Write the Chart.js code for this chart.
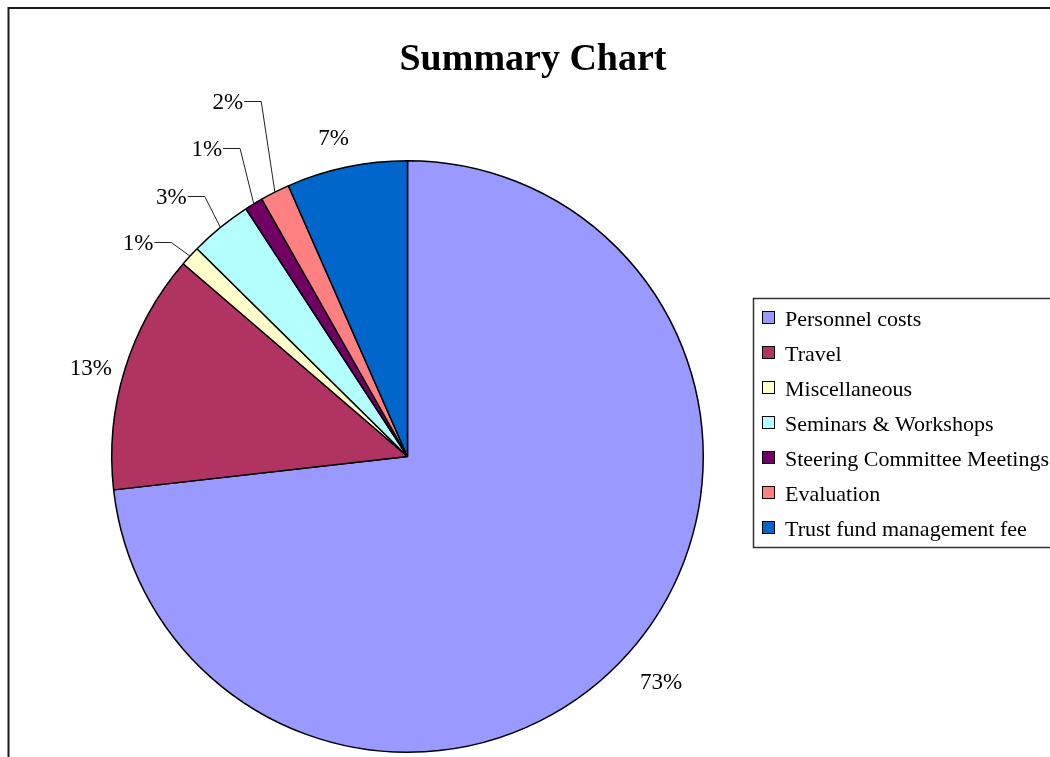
<!DOCTYPE html>
<html>
<head>
<meta charset="utf-8">
<script src="https://cdn.jsdelivr.net/npm/chart.js@4.4.1/dist/chart.umd.min.js"></script>
<style>
  html, body { margin: 0; padding: 0; background: #ffffff; }
  #wrap { width: 1050px; height: 757px; position: relative; }
  canvas { display: block; }
</style>
</head>
<body>
<div id="wrap"><canvas id="c" width="1050" height="757"></canvas></div>
<script>
// ---- data ----
const categories = [
  "Personnel costs",
  "Travel",
  "Miscellaneous",
  "Seminars & Workshops",
  "Steering Committee Meetings",
  "Evaluation",
  "Trust fund management fee"
];
const shares = [73.2, 13.1, 1.1, 3.4, 1.0, 1.6, 6.6];
const sliceColors = ["#9999FF", "#B13362", "#FFFFCC", "#B3FFFF", "#720064", "#FF8080", "#0066CC"];
const chartTitle = "Summary Chart";

// label placement relative to the slice's outer-edge midpoint
const labelPlacement = [
  { dx: 33, dy: 28 },
  { dx: -34, dy: -3 },
  { dx: -52, dy: -14, leader: true },
  { dx: -49, dy: -31, leader: true },
  { dx: -47, dy: -56, leader: true },
  { dx: -47, dy: -91, leader: true },
  { dx: -13, dy: -30 }
];

const SERIF = '"Liberation Serif", "Times New Roman", Times, serif';

const framePlugin = {
  id: 'frame',
  beforeDraw(chart) {
    const ctx = chart.ctx;
    ctx.save();
    ctx.fillStyle = '#ffffff';
    ctx.fillRect(0, 0, chart.width, chart.height);
    ctx.strokeStyle = '#1a1a1a';
    ctx.lineWidth = 2;
    ctx.beginPath();
    ctx.moveTo(8.5, chart.height + 2);
    ctx.lineTo(8.5, 8);
    ctx.lineTo(chart.width + 2, 8);
    ctx.stroke();
    // title
    ctx.fillStyle = '#000';
    ctx.font = 'bold 38px ' + SERIF;
    ctx.textAlign = 'center';
    ctx.textBaseline = 'alphabetic';
    ctx.fillText(chartTitle, 533, 70);
    ctx.restore();
  }
};

const labelPlugin = {
  id: 'pctLabels',
  afterDatasetsDraw(chart) {
    const ctx = chart.ctx;
    const meta = chart.getDatasetMeta(0);
    const vals = chart.data.datasets[0].data;
    const total = vals.reduce((a, b) => a + b, 0);
    ctx.save();
    ctx.font = '23px ' + SERIF;
    ctx.fillStyle = '#000';
    ctx.textBaseline = 'alphabetic';
    ctx.textAlign = 'center';
    meta.data.forEach((arc, i) => {
      const p = arc.getProps(['x', 'y', 'startAngle', 'endAngle', 'outerRadius'], true);
      const mid = (p.startAngle + p.endAngle) / 2;
      const ex = p.x + Math.cos(mid) * p.outerRadius;
      const ey = p.y + Math.sin(mid) * p.outerRadius;
      const pl = labelPlacement[i];
      const tx = ex + pl.dx;
      const ty = ey + pl.dy;
      const txt = Math.round(vals[i] / total * 100) + '%';
      ctx.fillText(txt, tx, ty + 8);
      if (pl.leader) {
        const w = ctx.measureText(txt).width;
        const right = tx + w / 2 + 1;
        ctx.strokeStyle = '#222';
        ctx.lineWidth = 1;
        ctx.beginPath();
        ctx.moveTo(right, Math.round(ty) + 0.5);
        ctx.lineTo(right + 17, Math.round(ty) + 0.5);
        ctx.lineTo(ex, ey);
        ctx.stroke();
      }
    });
    ctx.restore();
  }
};

const legendPlugin = {
  id: 'boxLegend',
  afterDraw(chart) {
    const ctx = chart.ctx;
    const bg = chart.data.datasets[0].backgroundColor;
    ctx.save();
    ctx.strokeStyle = '#333';
    ctx.lineWidth = 1.5;
    ctx.strokeRect(753.5, 298.5, 320, 249);
    ctx.font = '22px ' + SERIF;
    ctx.textAlign = 'left';
    ctx.textBaseline = 'alphabetic';
    chart.data.labels.forEach((lab, i) => {
      const cy = 318 + i * 35;
      ctx.fillStyle = bg[i];
      ctx.fillRect(762.5, cy - 6.5, 12, 12);
      ctx.strokeStyle = '#000';
      ctx.lineWidth = 1;
      ctx.strokeRect(762.5, cy - 6.5, 12, 12);
      ctx.fillStyle = '#000';
      ctx.fillText(lab, 785, cy + 7.5);
    });
    ctx.restore();
  }
};

new Chart(document.getElementById('c'), {
  type: 'pie',
  data: {
    labels: categories,
    datasets: [{
      data: shares,
      backgroundColor: sliceColors,
      borderColor: '#000000',
      borderWidth: 1.5
    }]
  },
  options: {
    responsive: false,
    animation: false,
    devicePixelRatio: 1,
    layout: { padding: { left: 111, right: 346, top: 160, bottom: 4 } },
    plugins: {
      legend: { display: false },
      title: { display: false },
      tooltip: { enabled: false }
    }
  },
  plugins: [framePlugin, labelPlugin, legendPlugin]
});
</script>
</body>
</html>
